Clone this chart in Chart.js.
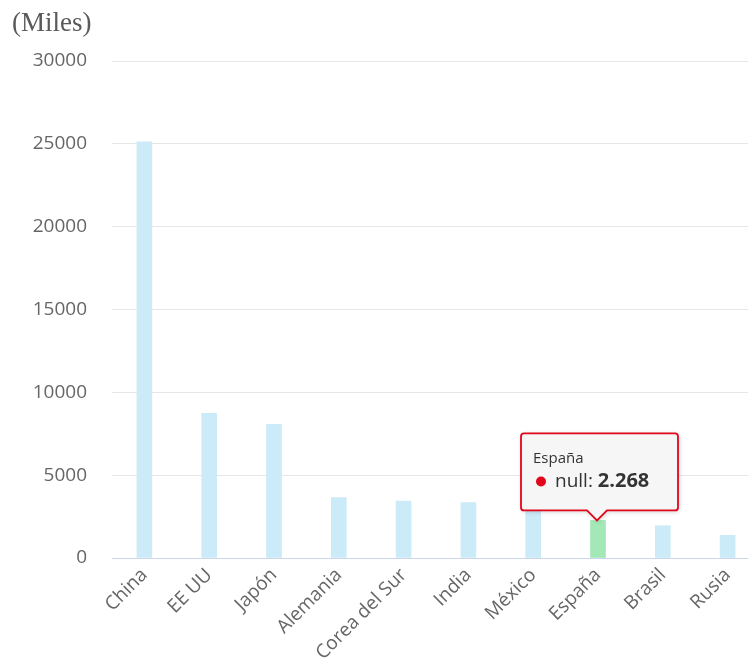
<!DOCTYPE html>
<html>
<head>
<meta charset="utf-8">
<script src="https://cdn.jsdelivr.net/npm/chart.js@4.4.0/dist/chart.umd.min.js"></script>
<style>
  html, body { margin: 0; padding: 0; background: #fff; overflow: hidden; }
  #wrap { position: absolute; left: 0; top: 0; width: 760px; height: 664px; }
  #unit {
    position: absolute; left: 12px; top: 7px;
    font-family: "Liberation Serif", "DejaVu Serif", serif;
    font-size: 27px; color: #5a5a5a;
  }
</style>
</head>
<body>
<div id="wrap"><canvas id="chart"></canvas></div>
<div id="unit">(Miles)</div>
<script>
// DATA
const countries = ['China', 'EE UU', 'Japón', 'Alemania', 'Corea del Sur', 'India', 'México', 'España', 'Brasil', 'Rusia'];
const values = [25120, 8730, 8070, 3640, 3440, 3340, 2950, 2268, 1950, 1370];
const yTicks = [0, 5000, 10000, 15000, 20000, 25000, 30000];
const seriesName = 'null';
const highlightIndex = 7; // España, hovered in the original

// STYLES
const barBlue = 'rgb(204, 235, 248)';
const barGreen = 'rgb(163, 232, 182)';
const tickFont = { family: '"Open Sans", sans-serif', size: 19 };

// tooltip drawn on the canvas, Highcharts-like
const hoverTip = {
  id: 'hoverTip',
  afterDraw(chart) {
    const bar = chart.getDatasetMeta(0).data[highlightIndex];
    if (!bar) return;
    const ctx = chart.ctx;
    const tipX = bar.x - 1, tipY = bar.y;
    const w = 157, h = 77, caret = 10;
    const left = tipX - 76, bottom = tipY - caret, top = bottom - h, right = left + w;
    const r = 3;

    ctx.save();
    ctx.shadowColor = 'rgba(0,0,0,0.22)';
    ctx.shadowBlur = 5;
    ctx.shadowOffsetX = 1;
    ctx.shadowOffsetY = 1;
    ctx.beginPath();
    ctx.moveTo(left + r, top);
    ctx.lineTo(right - r, top);
    ctx.quadraticCurveTo(right, top, right, top + r);
    ctx.lineTo(right, bottom - r);
    ctx.quadraticCurveTo(right, bottom, right - r, bottom);
    ctx.lineTo(tipX + caret, bottom);
    ctx.lineTo(tipX, tipY);
    ctx.lineTo(tipX - caret, bottom);
    ctx.lineTo(left + r, bottom);
    ctx.quadraticCurveTo(left, bottom, left, bottom - r);
    ctx.lineTo(left, top + r);
    ctx.quadraticCurveTo(left, top, left + r, top);
    ctx.closePath();
    ctx.fillStyle = 'rgba(247,247,247,0.97)';
    ctx.fill();
    ctx.shadowColor = 'transparent';
    ctx.lineWidth = 1.8;
    ctx.strokeStyle = '#e2061b';
    ctx.stroke();

    ctx.fillStyle = '#333';
    ctx.textBaseline = 'middle';
    ctx.textAlign = 'left';
    ctx.font = '15px "Open Sans", sans-serif';
    ctx.fillText(countries[highlightIndex], left + 12, top + 25);

    ctx.beginPath();
    ctx.arc(left + 20, top + 48, 5, 0, Math.PI * 2);
    ctx.fillStyle = '#e2061b';
    ctx.fill();

    ctx.fillStyle = '#333';
    ctx.font = '19px "Open Sans", sans-serif';
    const lbl = seriesName + ': ';
    ctx.fillText(lbl, left + 34, top + 48);
    const lw = ctx.measureText(lbl).width;
    ctx.font = 'bold 20px "Open Sans", sans-serif';
    ctx.fillText(values[highlightIndex].toLocaleString('de-DE'), left + 34 + lw, top + 48);
    ctx.restore();
  }
};

const ctx = document.getElementById('chart').getContext('2d');
const chart = new Chart(ctx, {
  type: 'bar',
  data: {
    labels: countries,
    datasets: [{
      label: seriesName,
      data: values,
      backgroundColor: countries.map((c, i) => i === highlightIndex ? barGreen : barBlue),
      barThickness: 15,
      borderWidth: 0
    }]
  },
  options: {
    responsive: true,
    maintainAspectRatio: false,
    animation: false,
    layout: { padding: { top: 61, right: 0, bottom: 0, left: 0 } },
    plugins: {
      legend: { display: false },
      tooltip: { enabled: false }
    },
    scales: {
      x: {
        grid: { display: false, drawTicks: false },
        border: { color: '#ccd6eb', width: 1 },
        ticks: {
          color: '#666',
          font: tickFont,
          minRotation: 45,
          maxRotation: 45,
          autoSkip: false,
          padding: 6
        },
        afterFit(scale) { scale.height = 106; }
      },
      y: {
        min: 0,
        max: 30000,
        afterBuildTicks(scale) { scale.ticks = yTicks.map(v => ({ value: v })); },
        grid: { color: '#e6e6e6', drawTicks: false },
        border: { display: false },
        ticks: {
          color: '#666',
          font: tickFont,
          padding: 25,
          callback: v => String(v)
        },
        afterFit(scale) { scale.width = 112; }
      }
    }
  },
  plugins: [hoverTip]
});
</script>
</body>
</html>
